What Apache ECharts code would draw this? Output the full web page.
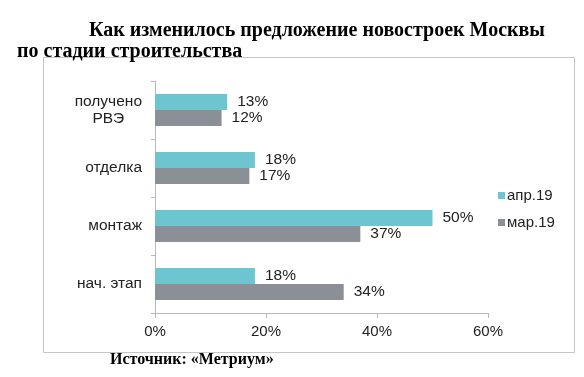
<!DOCTYPE html>
<html>
<head>
<meta charset="utf-8">
<script src="https://cdn.jsdelivr.net/npm/echarts@6/dist/echarts.min.js"></script>
<style>
  html, body { margin: 0; padding: 0; background: #fff; }
  #chart { width: 584px; height: 377px; }
</style>
</head>
<body>
<div id="chart"></div>
<script>
// stages, bottom to top as drawn on the axis
const stages = ['нач. этап', 'монтаж', 'отделка', 'получено\nРВЭ']
const apr19 = [18, 50, 18, 13]
const mar19 = [34, 37, 17, 12]
const xTicks = [0, 20, 40, 60]

const chart = echarts.init(document.getElementById('chart'))

const labelStyle = {
  show: true,
  position: 'right',
  distance: 10,
  formatter: '{c}%',
  color: '#222',
  fontSize: 15.5,
  fontFamily: 'Liberation Sans'
}

let option = {
  animation: false,
  title: [
    {
      text: 'Как изменилось предложение новостроек Москвы',
      left: 84,
      top: 16,
      textStyle: { fontFamily: 'Liberation Serif', fontWeight: 'bold', fontSize: 20, color: '#000' }
    },
    {
      text: 'по стадии строительства',
      left: 12,
      top: 37,
      textStyle: { fontFamily: 'Liberation Serif', fontWeight: 'bold', fontSize: 20, color: '#000' }
    },
    {
      text: 'Источник: «Метриум»',
      left: 105,
      top: 347,
      textStyle: { fontFamily: 'Liberation Serif', fontWeight: 'bold', fontSize: 16, color: '#000' }
    }
  ],
  graphic: [
    {
      type: 'rect',
      shape: { x: 43.5, y: 57.5, width: 531, height: 295 },
      style: { fill: 'none', stroke: '#c6c6c6', lineWidth: 1 },
      silent: true
    }
  ],
  legend: {
    data: ['апр.19', 'мар.19'],
    orient: 'vertical',
    left: 493,
    top: 183,
    itemWidth: 7,
    itemHeight: 7,
    itemGap: 12,
    icon: 'rect',
    textStyle: { fontFamily: 'Liberation Sans', fontSize: 15, color: '#222', padding: [0, 0, 0, -3] }
  },
  grid: {
    left: 155,
    right: 96,
    top: 81,
    bottom: 64,
    containLabel: false
  },
  xAxis: {
    type: 'value',
    min: 0,
    max: 60,
    interval: 20,
    splitLine: { show: false },
    axisLine: { show: true, lineStyle: { color: '#b9b9b9' } },
    axisTick: { show: true, length: 5, lineStyle: { color: '#b9b9b9' } },
    axisLabel: {
      formatter: v => xTicks.includes(v) ? v + '%' : '',
      color: '#222',
      fontSize: 15,
      fontFamily: 'Liberation Sans',
      margin: 11
    }
  },
  yAxis: {
    type: 'category',
    data: stages,
    axisLine: { show: true, lineStyle: { color: '#b9b9b9' } },
    axisTick: { show: true, length: 4, lineStyle: { color: '#b9b9b9' } },
    axisLabel: {
      color: '#222',
      fontSize: 15.5,
      fontFamily: 'Liberation Sans',
      margin: 13,
      formatter: v => v.split('\n').map(s => '{c|' + s + '}').join('\n'),
      rich: {
        c: { align: 'center', fontSize: 15.5, fontFamily: 'Liberation Sans', color: '#222', lineHeight: 17 }
      }
    }
  },
  series: [
    {
      name: 'апр.19',
      type: 'bar',
      data: apr19,
      barWidth: 16,
      barGap: '0%',
      itemStyle: { color: '#6cc5cf' },
      label: labelStyle
    },
    {
      name: 'мар.19',
      type: 'bar',
      data: mar19,
      barWidth: 16,
      barGap: '0%',
      itemStyle: { color: '#8a9095' },
      label: labelStyle
    }
  ]
}

chart.setOption(option)
</script>
</body>
</html>
